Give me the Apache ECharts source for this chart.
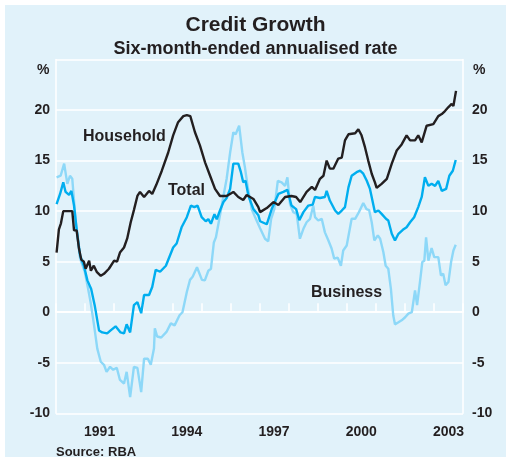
<!DOCTYPE html>
<html>
<head>
<meta charset="utf-8">
<script src="https://cdn.jsdelivr.net/npm/echarts@6/dist/echarts.min.js"></script>
<style>html,body{margin:0;padding:0;background:#fff}#c{width:511px;height:460px}</style>
</head>
<body>
<div id="c"></div>
<script>
// ---- data (decimal year, percent) ----
var yearLabels = ['1990','1991','1992','1993','1994','1995','1996','1997','1998','1999','2000','2001','2002','2003'];
var yTicks = [-10, -5, 0, 5, 10, 15, 20];

var householdYears = [1990.02,1990.10,1990.17,1990.25,1990.40,1990.56,1990.62,1990.71,1990.79,1990.87,1990.96,1991.02,1991.14,1991.20,1991.30,1991.40,1991.54,1991.65,1991.82,1992.00,1992.10,1992.20,1992.34,1992.45,1992.57,1992.68,1992.80,1992.89,1993.03,1993.20,1993.31,1993.45,1993.64,1993.86,1994.03,1994.20,1994.38,1994.50,1994.62,1994.78,1994.95,1995.13,1995.30,1995.47,1995.64,1995.87,1996.10,1996.27,1996.44,1996.56,1996.79,1996.96,1997.02,1997.25,1997.48,1997.65,1997.88,1998.10,1998.26,1998.40,1998.62,1998.80,1998.91,1999.08,1999.20,1999.31,1999.42,1999.54,1999.71,1999.83,1999.94,2000.06,2000.29,2000.40,2000.51,2000.63,2000.74,2000.86,2000.97,2001.03,2001.20,2001.38,2001.55,2001.72,2001.89,2002.06,2002.18,2002.35,2002.46,2002.58,2002.75,2002.98,2003.15,2003.27,2003.38,2003.50,2003.61,2003.67,2003.76];
var householdValues = [5.9,8.2,8.8,10.0,10.0,10.0,8.1,8.1,6.3,5.2,5.0,4.3,5.1,4.1,4.6,4.0,3.6,3.8,4.3,5.1,5.0,5.9,6.4,7.3,8.9,10.1,11.5,11.9,11.4,12.0,11.7,12.6,14.0,15.8,17.5,18.8,19.4,19.5,19.4,17.8,16.5,14.8,13.5,12.2,11.5,11.5,11.9,11.4,11.1,11.6,11.2,10.4,9.9,10.3,10.9,10.6,11.4,11.5,11.4,10.9,11.9,12.4,12.1,13.2,13.5,15.0,14.2,14.2,15.2,15.3,17.0,17.6,17.7,18.1,17.5,16.3,15.0,13.7,12.85,12.3,12.7,13.2,14.7,16.0,16.6,17.5,17.0,17.0,17.5,16.8,18.45,18.6,19.4,19.6,19.9,20.3,20.6,20.4,21.9];

var totalYears = [1990.02,1990.14,1990.25,1990.33,1990.45,1990.53,1990.62,1990.71,1990.83,1990.96,1991.08,1991.21,1991.33,1991.48,1991.59,1991.76,1991.88,1992.05,1992.22,1992.34,1992.43,1992.55,1992.68,1992.80,1992.93,1993.03,1993.20,1993.31,1993.43,1993.58,1993.78,1994.03,1994.15,1994.32,1994.50,1994.64,1994.76,1994.87,1995.01,1995.15,1995.24,1995.33,1995.45,1995.53,1995.64,1995.76,1995.87,1995.99,1996.10,1996.27,1996.36,1996.44,1996.52,1996.62,1996.79,1996.96,1997.02,1997.25,1997.42,1997.65,1997.82,1997.96,1998.10,1998.26,1998.37,1998.51,1998.68,1998.83,1998.91,1999.08,1999.25,1999.31,1999.42,1999.60,1999.71,1999.83,1999.94,2000.06,2000.17,2000.34,2000.46,2000.57,2000.69,2000.80,2000.97,2001.09,2001.20,2001.35,2001.43,2001.55,2001.66,2001.78,2001.93,2002.06,2002.18,2002.32,2002.46,2002.58,2002.69,2002.81,2002.92,2003.04,2003.15,2003.27,2003.42,2003.53,2003.65,2003.75];
var totalValues = [10.7,11.7,12.85,11.9,11.6,12.0,10.55,8.25,5.6,4.6,3.15,2.3,0.7,-1.8,-2.0,-2.1,-1.8,-1.4,-2.0,-2.1,-1.2,-2.0,0.7,1.0,-0.1,1.7,1.7,2.5,4.2,4.0,4.6,6.4,6.8,8.4,9.4,10.55,10.4,10.55,9.4,9.0,9.2,8.75,9.7,9.2,10.06,10.9,11.3,12.2,14.7,14.7,13.85,12.85,13.0,11.5,10.2,9.6,9.0,8.7,10.2,11.7,11.9,12.1,10.55,10.2,9.1,9.9,10.55,10.65,11.4,11.3,11.4,12.0,11.05,10.06,9.73,10.06,10.4,12.35,13.5,13.85,14.0,13.7,13.0,12.2,9.9,10.06,9.73,9.24,9.07,7.76,7.1,7.76,8.15,8.4,8.9,9.4,10.4,11.4,13.35,12.5,12.7,12.5,13.0,12.0,12.2,13.5,14.0,15.06];

var businessYears = [1990.02,1990.16,1990.28,1990.39,1990.48,1990.56,1990.68,1990.83,1990.99,1991.08,1991.19,1991.31,1991.42,1991.54,1991.65,1991.74,1991.86,1991.97,1992.09,1992.20,1992.34,1992.43,1992.55,1992.68,1992.80,1992.93,1993.03,1993.16,1993.26,1993.37,1993.40,1993.48,1993.62,1993.80,1993.95,1994.08,1994.25,1994.35,1994.50,1994.61,1994.70,1994.85,1995.02,1995.12,1995.24,1995.33,1995.43,1995.50,1995.64,1995.76,1995.87,1995.99,1996.10,1996.18,1996.30,1996.41,1996.50,1996.59,1996.73,1996.85,1997.02,1997.19,1997.30,1997.40,1997.51,1997.63,1997.76,1997.88,1997.96,1998.05,1998.16,1998.28,1998.39,1998.51,1998.62,1998.74,1998.85,1998.91,1999.02,1999.14,1999.25,1999.37,1999.48,1999.57,1999.69,1999.80,1999.88,2000.00,2000.17,2000.29,2000.42,2000.57,2000.68,2000.77,2000.86,2000.95,2001.07,2001.15,2001.26,2001.34,2001.43,2001.52,2001.60,2001.66,2001.78,2001.89,2002.01,2002.12,2002.24,2002.35,2002.42,2002.52,2002.60,2002.67,2002.73,2002.81,2002.92,2003.01,2003.15,2003.24,2003.32,2003.40,2003.50,2003.59,2003.67,2003.75];
var businessValues = [13.35,13.5,14.7,12.7,13.5,13.2,8.9,5.3,4.0,2.7,1.0,-1.3,-3.6,-4.9,-5.2,-5.9,-5.4,-5.7,-5.5,-6.7,-7.05,-5.9,-8.4,-5.4,-5.5,-7.9,-4.6,-4.6,-5.2,-3.6,-1.6,-2.4,-2.5,-1.95,-1.1,-1.3,-0.3,0.0,2.0,3.2,3.5,4.45,3.2,3.15,4.1,4.3,6.9,7.4,9.57,11.5,13.2,15.8,17.8,17.6,18.45,15.8,14.3,12.5,10.2,9.4,8.3,7.27,7.0,9.24,10.2,13.0,12.85,12.5,13.35,10.7,9.9,9.73,7.27,8.25,8.9,9.24,10.55,9.4,9.07,9.24,7.9,7.1,6.3,5.3,5.4,4.6,6.1,6.6,9.24,9.24,9.9,10.8,10.2,10.1,8.9,7.1,7.6,7.27,5.95,4.6,4.3,2.3,-0.3,-1.2,-1.0,-0.8,-0.5,-0.14,0.0,2.16,0.7,3.0,4.96,5.1,7.4,5.1,6.35,5.45,5.45,3.64,3.8,2.66,3.0,4.96,6.1,6.67];

function zip(xs, ys) { return xs.map(function (x, i) { return [x, ys[i]]; }); }

var FONT = '"Liberation Sans", Arial, Helvetica, sans-serif';
var DARK = '#231f20';
var BG = '#e1f2fa';

var chart = echarts.init(document.getElementById('c'), null, { renderer: 'canvas' });

function yAxisCfg(pos, margin) {
  return {
    type: 'value', position: pos, min: -10, max: 25, interval: 5,
    axisLine: { show: true, lineStyle: { color: '#ffffff', width: 1.5 } },
    axisTick: { show: false },
    splitLine: { show: pos === 'left', lineStyle: { color: '#ffffff', width: 1.5 } },
    axisLabel: {
      margin: margin, color: DARK, fontFamily: FONT, fontWeight: 'bold', fontSize: 14,
      formatter: function (v) { return yTicks.indexOf(v) >= 0 ? String(v) : ''; }
    }
  };
}

chart.setOption({
  backgroundColor: '#ffffff',
  animation: false,
  title: [
    { text: 'Credit Growth', left: 'center', top: 10,
      textStyle: { fontFamily: FONT, fontWeight: 'bold', fontSize: 21, color: DARK } },
    { text: 'Six-month-ended annualised rate', left: 'center', top: 35,
      textStyle: { fontFamily: FONT, fontWeight: 'bold', fontSize: 18, color: DARK } }
  ],
  grid: { left: 56, right: 48, top: 59.5, bottom: 46.7, containLabel: false },
  xAxis: [
    { type: 'value', min: 1990, max: 2004, show: false },
    { type: 'category', data: yearLabels, boundaryGap: true, position: 'bottom',
      axisLine: { show: true, lineStyle: { color: '#ffffff', width: 2 } },
      axisTick: { show: true, inside: true, length: 9, interval: 0, lineStyle: { color: '#ffffff', width: 1.5 } },
      splitLine: { show: false },
      axisLabel: { margin: 12, color: DARK, fontFamily: FONT, fontWeight: 'bold', fontSize: 14,
        interval: function (idx) { return idx % 3 === 1; } } }
  ],
  yAxis: [ yAxisCfg('left', 6), yAxisCfg('right', 9) ],
  graphic: [
    { type: 'rect', z: -10, shape: { x: 5, y: 5, width: 501, height: 452 }, style: { fill: BG } },
    { type: 'text', left: 37, top: 63, style: { text: '%', fontFamily: FONT, fontWeight: 'bold', fontSize: 14, fill: DARK } },
    { type: 'text', left: 473, top: 63, style: { text: '%', fontFamily: FONT, fontWeight: 'bold', fontSize: 14, fill: DARK } },
    { type: 'text', left: 83, top: 129, style: { text: 'Household', fontFamily: FONT, fontWeight: 'bold', fontSize: 16, fill: DARK } },
    { type: 'text', left: 168, top: 183, style: { text: 'Total', fontFamily: FONT, fontWeight: 'bold', fontSize: 16, fill: DARK } },
    { type: 'text', left: 311, top: 285, style: { text: 'Business', fontFamily: FONT, fontWeight: 'bold', fontSize: 16, fill: DARK } },
    { type: 'text', left: 56, top: 446, style: { text: 'Source: RBA', fontFamily: FONT, fontWeight: 'bold', fontSize: 13, fill: DARK } }
  ],
  series: [
    { name: 'Business', type: 'line', xAxisIndex: 0, yAxisIndex: 0, showSymbol: false, smooth: false,
      data: zip(businessYears, businessValues), lineStyle: { color: '#8dd8f8', width: 2.4 } },
    { name: 'Total', type: 'line', xAxisIndex: 0, yAxisIndex: 0, showSymbol: false, smooth: false,
      data: zip(totalYears, totalValues), lineStyle: { color: '#00aeef', width: 2.4 } },
    { name: 'Household', type: 'line', xAxisIndex: 0, yAxisIndex: 0, showSymbol: false, smooth: false,
      data: zip(householdYears, householdValues), lineStyle: { color: '#231f20', width: 2.4 } }
  ]
});
</script>
</body>
</html>
